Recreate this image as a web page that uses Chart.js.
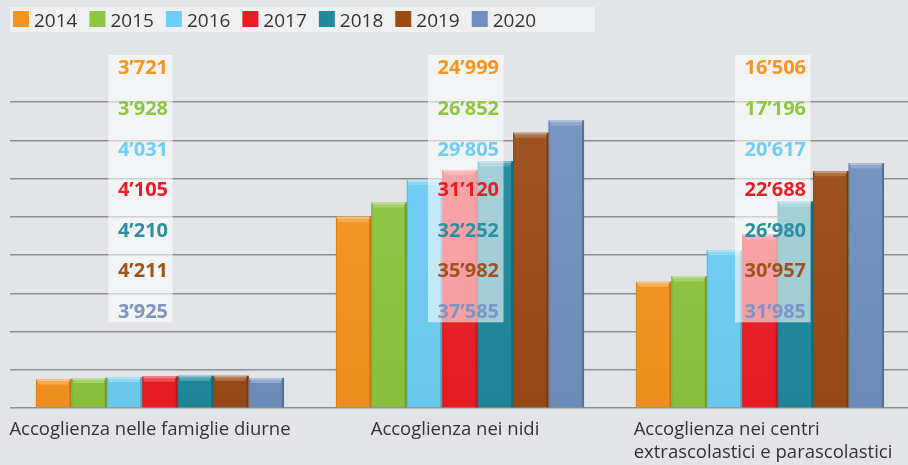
<!DOCTYPE html>
<html><head><meta charset="utf-8">
<script src="https://cdn.jsdelivr.net/npm/chart.js@4.4.1/dist/chart.umd.min.js"></script>
<style>
html,body{margin:0;padding:0;background:#e3e4e8;overflow:hidden;width:908px;height:465px}
canvas{display:block}
</style>
</head><body>
<canvas id="c" width="910" height="465" style="width:910px;height:465px"></canvas>
<script>
// ---- data ----
const categories = [
  ["Accoglienza nelle famiglie diurne"],
  ["Accoglienza nei nidi"],
  ["Accoglienza nei centri", "extrascolastici e parascolastici"]
];
const years = ["2014", "2015", "2016", "2017", "2018", "2019", "2020"];
const values2014 = [3721, 24999, 16506];
const values2015 = [3928, 26852, 17196];
const values2016 = [4031, 29805, 20617];
const values2017 = [4105, 31120, 22688];
const values2018 = [4210, 32252, 26980];
const values2019 = [4211, 35982, 30957];
const values2020 = [3925, 37585, 31985];
const yMax = 40000;
const yStep = 5000;

// ---- styles ----
const seriesValues = [values2014, values2015, values2016, values2017, values2018, values2019, values2020];
const barColors = ["#f7941d", "#8dc63f", "#6dcff6", "#ed1c24", "#1f8a9e", "#9a4b16", "#7090c0"];
const labelColors = ["#f7941d", "#8dc63f", "#6dcff6", "#ed1c24", "#2a8fa0", "#a0521d", "#7b96c4"];
const labelShift = [8, 39, 46];      // right edge of value labels relative to category centre (px)
const catLabelShift = [-10, -5, 3];  // category label block offset (px)
const TEXT = "#333333";

function hexToRgb(h){h=h.replace('#','');return [parseInt(h.substr(0,2),16),parseInt(h.substr(2,2),16),parseInt(h.substr(4,2),16)];}
function mix(h, t, a){const c=hexToRgb(h);const tc=t==='w'?[255,255,255]:[0,0,0];return 'rgb('+c.map((v,i)=>Math.round(v+(tc[i]-v)*a)).join(',')+')';}
function fmt(v){return String(v).replace(/\B(?=(\d{3})+(?!\d))/g, "\u2019");}

const datasets = years.map((y, i) => ({
  label: y,
  data: seriesValues[i],
  backgroundColor: (ctx) => {
    const area = ctx.chart.chartArea;
    if (!area) return barColors[i];
    const g = ctx.chart.ctx.createLinearGradient(0, area.top, 0, area.bottom);
    g.addColorStop(0, mix(barColors[i], 'w', 0.06));
    g.addColorStop(1, mix(barColors[i], 'k', 0.04));
    return g;
  },
  borderWidth: 0,
  barPercentage: 1,
  categoryPercentage: 0.827
}));

const decorPlugin = {
  id: 'decor',
  afterDatasetsDraw(chart) {
    const ctx = chart.ctx;
    const xs = chart.scales.x;
    const area = chart.chartArea;
    // bevel on bars
    chart.data.datasets.forEach((ds, di) => {
      const meta = chart.getDatasetMeta(di);
      meta.data.forEach(el => {
        const p = el.getProps(['x', 'y', 'base', 'width'], true);
        const l = p.x - p.width / 2, w = p.width;
        ctx.save();
        ctx.fillStyle = mix(barColors[di], 'k', 0.22);
        ctx.fillRect(l + w - 2, p.y, 2, p.base - p.y);
        ctx.fillStyle = mix(barColors[di], 'k', 0.12);
        ctx.fillRect(l, p.y, 1, p.base - p.y);
        ctx.fillStyle = mix(barColors[di], 'w', 0.45);
        ctx.fillRect(l + 1, p.y, w - 3, 2);
        ctx.fillStyle = mix(barColors[di], 'w', 0.22);
        ctx.fillRect(l + 2, p.y + 2, w - 5, 3);
        ctx.restore();
      });
    });
    // value label boxes
    const font = "bold 20px 'Open Sans', 'Noto Sans', sans-serif";
    const rowH = 40.6;
    const firstY = area.top - 34.3;
    categories.forEach((c, ci) => {
      ctx.save();
      ctx.font = font;
      let maxW = 0;
      seriesValues.forEach(s => { maxW = Math.max(maxW, ctx.measureText(fmt(s[ci])).width); });
      const cx = xs.getPixelForValue(ci);
      const textRight = cx + labelShift[ci];
      const boxR = textRight + 4.5;
      const boxL = textRight - maxW - 9.5;
      const boxT = firstY - 12.7;
      const boxB = firstY + rowH * (years.length - 1) + 11;
      ctx.fillStyle = 'rgba(255,255,255,0.58)';
      ctx.fillRect(boxL, boxT, boxR - boxL, boxB - boxT);
      ctx.textAlign = 'right';
      ctx.textBaseline = 'middle';
      seriesValues.forEach((s, si) => {
        ctx.fillStyle = labelColors[si];
        ctx.fillText(fmt(s[ci]), textRight, firstY + si * rowH + 1);
      });
      ctx.restore();
    });
  },
  afterDraw(chart) {
    const ctx = chart.ctx;
    const xs = chart.scales.x;
    // legend
    ctx.save();
    ctx.fillStyle = '#eff0f2';
    ctx.fillRect(10, 7, 585, 25);
    ctx.font = "19px 'Open Sans', 'Noto Sans', sans-serif";
    ctx.textBaseline = 'alphabetic';
    ctx.textAlign = 'left';
    let x = 13;
    years.forEach((y, i) => {
      ctx.fillStyle = barColors[i];
      ctx.fillRect(x, 11, 16, 16);
      ctx.fillStyle = TEXT;
      ctx.fillText(y, x + 21, 27);
      x += 21 + ctx.measureText(y).width + 12;
    });
    ctx.restore();
    // category labels
    ctx.save();
    ctx.font = "18.5px 'Open Sans', 'Noto Sans', sans-serif";
    ctx.fillStyle = TEXT;
    ctx.textAlign = 'left';
    ctx.textBaseline = 'alphabetic';
    categories.forEach((lines, ci) => {
      const cx = xs.getPixelForValue(ci) + catLabelShift[ci];
      let maxW = 0;
      lines.forEach(t => { maxW = Math.max(maxW, ctx.measureText(t).width); });
      const left = cx - maxW / 2;
      lines.forEach((t, li) => ctx.fillText(t, left, 435 + li * 23));
    });
    ctx.restore();
  }
};

new Chart(document.getElementById('c'), {
  type: 'bar',
  data: { labels: categories, datasets },
  options: {
    responsive: false,
    animation: false,
    layout: { padding: { left: 10, right: 0, top: 102, bottom: 57 } },
    plugins: { legend: { display: false }, tooltip: { enabled: false } },
    scales: {
      x: { display: false },
      y: {
        min: 0, max: yMax,
        ticks: { display: false, stepSize: yStep },
        border: { display: false },
        grid: { color: '#8e8f93', lineWidth: 1.5, drawTicks: false }
      }
    }
  },
  plugins: [decorPlugin]
});
</script>
</body></html>
